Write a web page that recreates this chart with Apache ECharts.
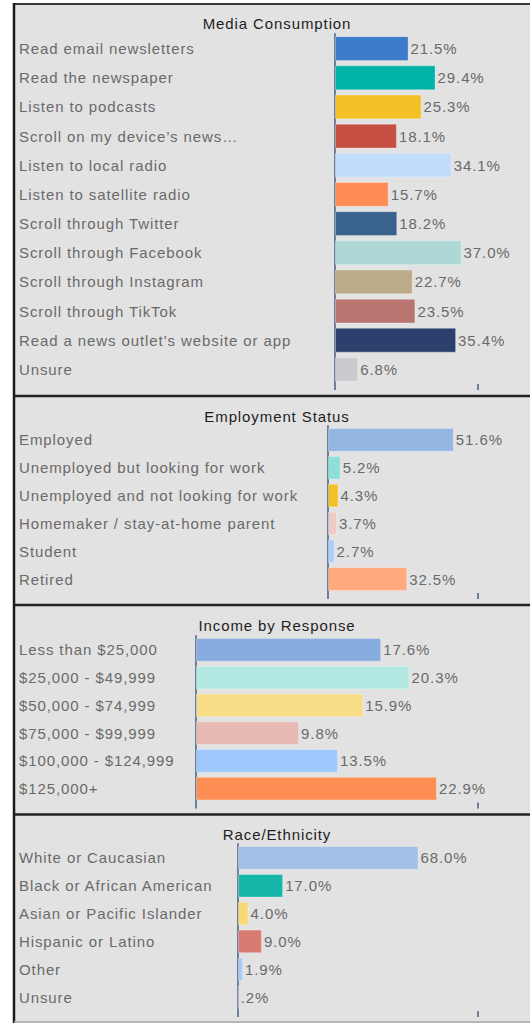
<!DOCTYPE html>
<html>
<head>
<meta charset="utf-8">
<script src="https://cdn.jsdelivr.net/npm/echarts@6/dist/echarts.min.js"></script>
<style>
  html, body { margin: 0; padding: 0; background: #ffffff; }
  #chart { width: 530px; height: 1023px; }
  #chart text { letter-spacing: 0.9px; }
</style>
</head>
<body>
<div id="chart"></div>
<script>
// Survey panels: one horizontal bar chart per question
const mediaCategories = [
  'Read email newsletters', 'Read the newspaper', 'Listen to podcasts',
  'Scroll on my device\u2019s news\u2026', 'Listen to local radio', 'Listen to satellite radio',
  'Scroll through Twitter', 'Scroll through Facebook', 'Scroll through Instagram',
  'Scroll through TikTok', 'Read a news outlet\u2019s website or app', 'Unsure'
];
const mediaValues = [21.5, 29.4, 25.3, 18.1, 34.1, 15.7, 18.2, 37.0, 22.7, 23.5, 35.4, 6.8];

const employmentCategories = [
  'Employed', 'Unemployed but looking for work', 'Unemployed and not looking for work',
  'Homemaker / stay-at-home parent', 'Student', 'Retired'
];
const employmentValues = [51.6, 5.2, 4.3, 3.7, 2.7, 32.5];

const incomeCategories = [
  'Less than $25,000', '$25,000 - $49,999', '$50,000 - $74,999',
  '$75,000 - $99,999', '$100,000 - $124,999', '$125,000+'
];
const incomeValues = [17.6, 20.3, 15.9, 9.8, 13.5, 22.9];

const raceCategories = [
  'White or Caucasian', 'Black or African American', 'Asian or Pacific Islander',
  'Hispanic or Latino', 'Other', 'Unsure'
];
const raceValues = [68.0, 17.0, 4.0, 9.0, 1.9, 0.2];

// Bar colours per panel
const mediaColors = ['#3d7bcb', '#00b3a8', '#f3c125', '#c54f42', '#c1ddfb', '#ff8c55',
  '#3a628f', '#add8d6', '#bcab88', '#b97670', '#2b406d', '#c9cbd0'];
const employmentColors = ['#93b6e3', '#8ddfd8', '#f3c125', '#efcbc6', '#a9cef8', '#ffa97c'];
const incomeColors = ['#88abe0', '#b3e8e3', '#f8dc88', '#e6b9b3', '#9ec8fb', '#ff8e55'];
const raceColors = ['#a2bfe5', '#16b6ab', '#f8d978', '#d97b70', '#a6ccf7', '#b8c4d6'];

const FONT = '"Liberation Sans", Arial, sans-serif';
const LABEL_COLOR = '#6a6a6a';
const AXIS_COLOR = '#6f7f95';

// "#.0%" style: a zero integer part is dropped (0.2 -> ".2%")
function pct(v) {
  let s = v.toFixed(1);
  if (s.indexOf('0.') === 0) s = s.slice(1);
  return s + '%';
}

const panels = [
  { title: 'Media Consumption', cats: mediaCategories, vals: mediaValues, colors: mediaColors,
    left: 335, top: 34, height: 350, max: 41.8, titleTop: 14 },
  { title: 'Employment Status', cats: employmentCategories, vals: employmentValues, colors: employmentColors,
    left: 328, top: 426, height: 167, max: 61.5, titleTop: 407 },
  { title: 'Income by Response', cats: incomeCategories, vals: incomeValues, colors: incomeColors,
    left: 196, top: 636, height: 166.5, max: 26.8, titleTop: 616 },
  { title: 'Race/Ethnicity', cats: raceCategories, vals: raceValues, colors: raceColors,
    left: 238, top: 844, height: 167, max: 90.4, titleTop: 825 }
];

const LABEL_X = 19;
const RIGHT = 52;

const option = {
  animation: false,
  backgroundColor: '#ffffff',
  textStyle: { fontFamily: FONT },
  title: panels.map(p => ({
    text: p.title,
    left: 277,
    top: p.titleTop,
    textAlign: 'center',
    padding: 0,
    textStyle: { fontFamily: FONT, fontSize: 15, fontWeight: 'normal', color: '#1e1e1e', lineHeight: 18 }
  })),
  grid: panels.map(p => ({ left: p.left, top: p.top, height: p.height, right: RIGHT, containLabel: false })),
  xAxis: panels.map((p, i) => ({
    type: 'value',
    gridIndex: i,
    min: 0,
    max: p.max,
    interval: p.max,
    axisLine: { show: false },
    splitLine: { show: false },
    axisLabel: { show: false },
    axisTick: { show: true, length: 6, lineStyle: { color: AXIS_COLOR, width: 2 } }
  })),
  yAxis: panels.map((p, i) => ({
    type: 'category',
    gridIndex: i,
    inverse: true,
    data: p.cats,
    axisLine: { show: true, lineStyle: { color: AXIS_COLOR, width: 2 } },
    axisTick: { show: false },
    axisLabel: {
      align: 'left',
      margin: p.left - LABEL_X,
      fontFamily: FONT,
      fontSize: 15,
      color: LABEL_COLOR
    }
  })),
  series: panels.map((p, i) => ({
    type: 'bar',
    xAxisIndex: i,
    yAxisIndex: i,
    barCategoryGap: '15%',
    data: p.vals.map((v, k) => ({
      value: v,
      itemStyle: { color: p.colors[k], borderColor: 'rgba(255,255,255,0.3)', borderWidth: 1 }
    })),
    label: {
      show: true,
      position: 'right',
      distance: 2,
      fontFamily: FONT,
      fontSize: 15,
      color: LABEL_COLOR,
      formatter: d => pct(d.value)
    }
  })),
  graphic: [
    // panel background and frame
    { type: 'rect', z: -10, shape: { x: 14, y: 3, width: 516, height: 1020 }, style: { fill: '#e2e2e2' } },
    { type: 'line', z: -5, shape: { x1: 14, y1: 4, x2: 530, y2: 4 }, style: { stroke: '#3a3a3a', lineWidth: 2 } },
    { type: 'line', z: -5, shape: { x1: 14, y1: 3, x2: 14, y2: 1023 }, style: { stroke: '#1a1a1a', lineWidth: 2.5 } },
    { type: 'line', z: -5, shape: { x1: 14, y1: 396, x2: 530, y2: 396 }, style: { stroke: '#222222', lineWidth: 2.5 } },
    { type: 'line', z: -5, shape: { x1: 14, y1: 605, x2: 530, y2: 605 }, style: { stroke: '#222222', lineWidth: 2.5 } },
    { type: 'line', z: -5, shape: { x1: 14, y1: 814.5, x2: 530, y2: 814.5 }, style: { stroke: '#222222', lineWidth: 2.5 } },
    { type: 'line', z: -5, shape: { x1: 14, y1: 1022, x2: 530, y2: 1022 }, style: { stroke: '#a8a8a8', lineWidth: 1.5 } }
  ]
};

const chart = echarts.init(document.getElementById('chart'), null, { renderer: 'svg' });
chart.setOption(option);
</script>
</body>
</html>
